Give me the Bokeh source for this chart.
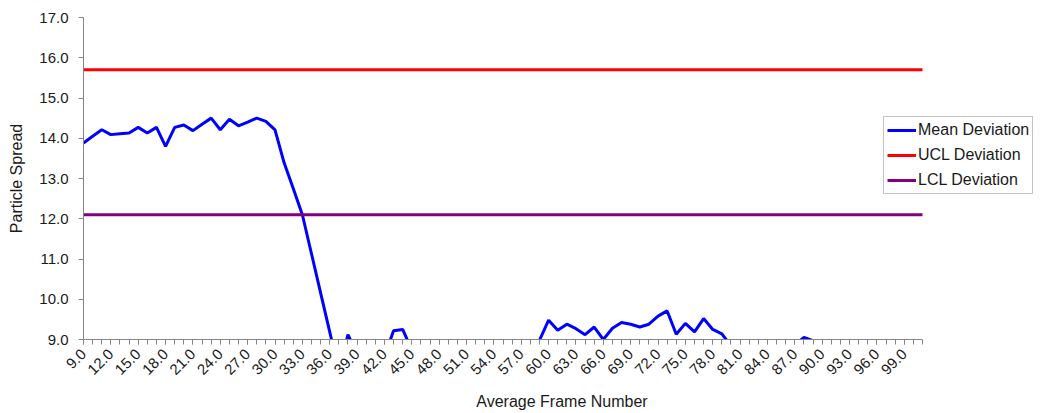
import math
from bokeh.plotting import figure
from bokeh.models import Range1d, FixedTicker, Legend, LegendItem
from bokeh.embed import file_html
from bokeh.resources import INLINE

# ---- data ----
frames = list(range(9, 102))
mean_deviation = [
    13.88, 14.05, 14.21, 14.09, 14.11, 14.13, 14.27, 14.13, 14.27, 13.80,   # 9-18
    14.27, 14.33, 14.19, 14.35, 14.50, 14.21, 14.47, 14.31, 14.40, 14.50,   # 19-28
    14.42, 14.21, 13.39, 12.75, 12.10, 11.13, 10.16, 9.19, 8.20, 9.12,      # 29-38
    8.64, 8.50, 8.40, 8.57, 9.22, 9.25, 8.74, 8.60, 8.50, 8.40,             # 39-48
    8.55, 8.45, 8.30, 8.50, 8.60, 8.40, 8.35, 8.50, 8.60, 8.70,             # 49-58
    8.98, 9.48, 9.23, 9.38, 9.27, 9.12, 9.31, 9.00, 9.28, 9.42,             # 59-68
    9.38, 9.31, 9.38, 9.58, 9.71, 9.13, 9.40, 9.19, 9.52, 9.25,             # 69-78
    9.14, 8.84, 8.60, 8.50, 8.40, 8.55, 8.50, 8.60, 8.87, 9.05,             # 79-88
    8.97, 8.60, 8.50, 8.45, 8.60, 8.50, 8.40, 8.55, 8.50, 8.60,             # 89-98
    8.45, 8.50, 8.55,                                                       # 99-101
]
ucl_value = 15.7
lcl_value = 12.1
ucl_deviation = [ucl_value for _ in frames]
lcl_deviation = [lcl_value for _ in frames]

x_tick_values = list(range(9, 100, 3))
x_tick_labels = {v: f"{v:.1f}" for v in x_tick_values}
y_tick_values = list(range(9, 18))
y_tick_labels = {v: f"{v:.1f}" for v in y_tick_values}

FONT = "Liberation Sans"
TXT = "#1a1a1a"
AX = "#868686"

# plot frame: first frame at px 83, last frame at px 922; frame runs to the page edge
W, H = 1040, 413
LEFT, TOP, BOTTOM = 83, 17, 72
px_per_frame = (922 - LEFT) / (frames[-1] - frames[0])
x_end = frames[0] + (W - LEFT) / px_per_frame

p = figure(width=W, height=H, output_backend="svg", toolbar_location=None,
           x_range=Range1d(frames[0], x_end), y_range=Range1d(9, 17),
           min_border_left=LEFT, min_border_right=0, min_border_top=TOP,
           min_border_bottom=BOTTOM)
p.outline_line_color = None
p.xgrid.visible = False
p.ygrid.visible = False

r_mean = p.line(frames, mean_deviation, line_color="#0000FF", line_width=3)
r_ucl = p.line(frames, ucl_deviation, line_color="#FF0000", line_width=3)
r_lcl = p.line(frames, lcl_deviation, line_color="#800080", line_width=3)

xa = p.xaxis[0]
xa.ticker = FixedTicker(ticks=x_tick_values, minor_ticks=frames)
xa.major_label_overrides = x_tick_labels
xa.major_label_orientation = math.pi / 4
xa.axis_label = "Average Frame Number"
xa.bounds = (frames[0], frames[-1])
ya = p.yaxis[0]
ya.ticker = FixedTicker(ticks=y_tick_values, minor_ticks=[])
ya.major_label_overrides = y_tick_labels
ya.axis_label = "Particle Spread"

for ax in (xa, ya):
    ax.axis_line_color = AX
    ax.major_tick_line_color = AX
    ax.minor_tick_line_color = AX
    ax.major_tick_in = 0
    ax.major_tick_out = 5
    ax.minor_tick_in = 0
    ax.minor_tick_out = 5
    ax.major_label_text_font = FONT
    ax.major_label_text_font_size = "15px"
    ax.major_label_text_color = TXT
    ax.axis_label_text_font = FONT
    ax.axis_label_text_font_size = "16px"
    ax.axis_label_text_font_style = "normal"
    ax.axis_label_text_color = TXT

xa.major_label_standoff = 7
xa.axis_label_standoff = 11
ya.major_label_standoff = 10
ya.axis_label_standoff = 11

legend = Legend(items=[LegendItem(label="Mean Deviation", renderers=[r_mean]),
                       LegendItem(label="UCL Deviation", renderers=[r_ucl]),
                       LegendItem(label="LCL Deviation", renderers=[r_lcl])],
                location=(800, 145))
legend.label_text_font = FONT
legend.label_text_font_size = "16px"
legend.label_text_color = TXT
legend.glyph_width = 29
legend.glyph_height = 20
legend.label_height = 20
legend.label_standoff = 2
legend.spacing = 5
legend.padding = 3
legend.margin = 0
legend.border_line_color = "#888888"
legend.border_line_width = 1
legend.background_fill_color = "white"
legend.background_fill_alpha = 1.0
p.add_layout(legend, "center")

open("out.html", "w").write(file_html(p, INLINE))
